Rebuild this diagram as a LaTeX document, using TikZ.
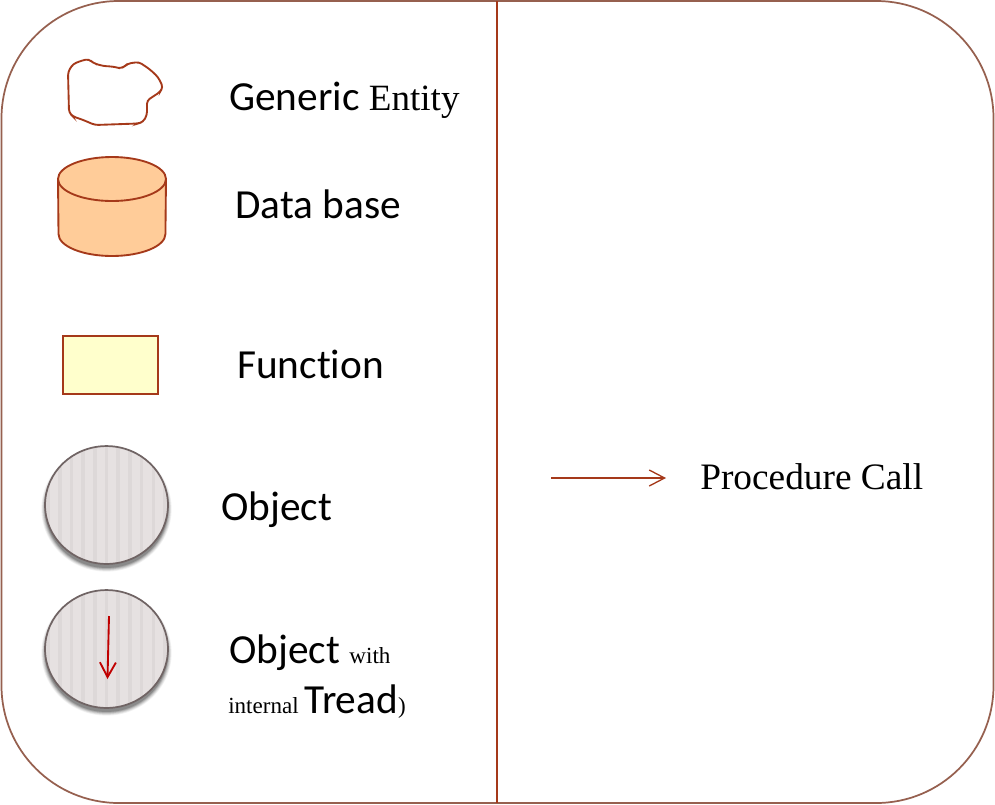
\documentclass[tikz,border=0pt]{standalone}
\usepackage{fontspec}
\setmainfont{Liberation Serif}
\newfontfamily\lblsans[Ligatures=NoCommon]{Carlito}
\usetikzlibrary{arrows.meta,shapes.geometric}
\definecolor{rust}{HTML}{A5391A}
\definecolor{frameC}{HTML}{96604F}
\definecolor{dbfill}{HTML}{FFCC99}
\definecolor{fnfill}{HTML}{FFFFCC}
\definecolor{objfill}{HTML}{E6E1E1}
\definecolor{objline}{HTML}{706464}
\definecolor{stripe}{HTML}{DDD8D8}
\definecolor{threadC}{HTML}{C00000}
\tikzset{
  x=0.75pt,y=-0.75pt,
  big/.style={anchor=base west,inner sep=0pt,font=\lblsans\fontsize{31}{33}\selectfont,text=black},
  ser/.style={anchor=base west,inner sep=0pt,font=\fontsize{28}{30}\selectfont,text=black},
  openarrow/.style={-{Straight Barb[length=11.5pt,width=12pt,line width=1pt]}},
}
\newcommand{\smallser}{\fontsize{17.3}{19}\selectfont\rmfamily}
\newcommand{\objcircle}[2]{%
  \foreach \r/\o in {5/0.05,4/0.06,3/0.08,2/0.10,1/0.12,0/0.16}
    \fill[black,opacity=\o] (#1,#2+4) ellipse[x radius=46.1pt+\r*0.55pt,y radius=44.2pt+\r*0.55pt];
  \begin{scope}
    \clip (#1,#2) ellipse[x radius=46.1pt,y radius=44.2pt];
    \fill[objfill] (#1-64,#2-62) rectangle (#1+64,#2+62);
    \foreach \k in {-5,...,5}
      \fill[stripe] (#1+\k*11.7-1.8,#2-62) rectangle (#1+\k*11.7+1.8,#2+62);
  \end{scope}
  \node[ellipse,draw=objline,line width=1.3pt,minimum width=92.2pt,minimum height=88.4pt,inner sep=0pt] (obj#1#2) at (#1,#2) {};
}
\begin{document}
\begin{tikzpicture}
\useasboundingbox (0,0) rectangle (995,804);
\fill[white] (0,0) rectangle (995,804);
\node[draw=frameC,line width=1.3pt,rounded corners=88pt,minimum width=744pt,minimum height=601.5pt,inner sep=0pt] (frame) at (497.5,402) {};
\coordinate (divtop) at (497,1);
\coordinate (divbot) at (497,803);
\draw[rust,line width=1.5pt] (divtop) -- (divbot);
% generic entity
\draw[rust,line width=1.4pt,fill=white,rounded corners=2.5pt]
 (89,59) -- (93,63) -- (103,66) -- (112,66.5) -- (117,67.5) -- (121,68.5) -- (125,66) -- (128,63.5) -- (139,62) -- (150,69.5) -- (158,77) -- (163,87) -- (160,92) -- (147,100.5) -- (147,115) -- (143,122) -- (138,123.5) -- (95,125) -- (82,119.5) -- (73,116.5) -- (69,112.5) -- (68,72) -- (73,64) -- (82,60.5) -- cycle;
\node[big] (t1) at (229,110) {Generic \fontsize{27.8}{30}\selectfont\rmfamily Entity};
% database
\path[fill=dbfill] (58,178) -- (58,234) arc[start angle=180,end angle=360,x radius=40.5pt,y radius=16.5pt] -- (166,178) -- cycle;
\draw[rust,line width=1.4pt] (58,178) -- (58.5,234) arc[start angle=180,end angle=360,x radius=40.1pt,y radius=16.5pt] -- (166,178);
\node[ellipse,draw=rust,fill=dbfill,line width=1.4pt,minimum width=81pt,minimum height=33pt,inner sep=0pt] (db) at (112,179) {};
\node[big] (t2) at (235,218) {Data base};
% function
\node[rectangle,draw=rust,fill=fnfill,line width=1.2pt,minimum width=71.2pt,minimum height=43.5pt,inner sep=0pt] (fn) at (110.5,365) {};
\node[big] (t3) at (237,378) {Function};
% objects
\objcircle{106.5}{505}
\node[big] (t4) at (221,520) {Object};
\objcircle{106.5}{649}
\coordinate (thA) at (109,616);
\coordinate (thB) at (107.5,679);
\draw[threadC,line width=1.4pt,-{Straight Barb[length=11pt,width=12pt,line width=1.4pt]}] (thA) -- (thB);
\node[big] (t5) at (229,663) {Object \smallser with};
\node[big] (t6) at (228,713) {\smallser internal \fontsize{31}{33}\selectfont\lblsans Tread\smallser )};
% procedure call
\coordinate (pcA) at (551,478);
\coordinate (pcB) at (666,478);
\draw[rust,line width=1.2pt,openarrow] (pcA) -- (pcB);
\node[ser] (t7) at (700,489) {Procedure Call};
\end{tikzpicture}
\end{document}
